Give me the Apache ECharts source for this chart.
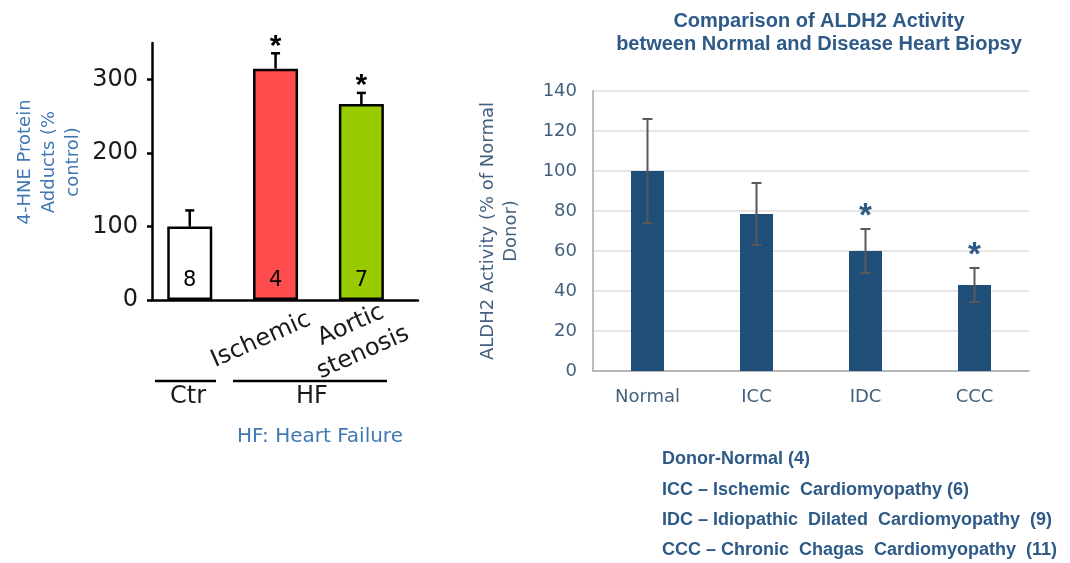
<!DOCTYPE html>
<html>
<head>
<meta charset="utf-8">
<script src="https://cdn.jsdelivr.net/npm/echarts@6/dist/echarts.min.js"></script>
<style>
  html, body { margin: 0; padding: 0; background: #ffffff; }
  #chart { width: 1070px; height: 563px; }
</style>
</head>
<body>
<div id="chart"></div>
<script>
// Left panel: 4-HNE protein adducts (% of control)
const hneGroups = ['Ctr', 'Ischemic', 'Aortic\nstenosis'];
const hneValues = [100, 315, 267];
const hneErrors = [22, 21, 15];
const hneN = [8, 4, 7];
const hneSignificant = [false, true, true];
const hneColors = ['#ffffff', '#ff4d4d', '#99cc00'];
const hneTicks = [0, 100, 200, 300];

// Right panel: ALDH2 activity (% of normal donor)
const aldhCategories = ['Normal', 'ICC', 'IDC', 'CCC'];
const aldhValues = [100, 78.5, 60, 43];
const aldhErrors = [26, 15.5, 11, 8.5];
const aldhSignificant = [false, false, true, true];
const aldhNotes = [
  'Donor-Normal (4)',
  'ICC – Ischemic  Cardiomyopathy (6)',
  'IDC – Idiopathic  Dilated  Cardiomyopathy  (9)',
  'CCC – Chronic  Chagas  Cardiomyopathy  (11)'
];

const SANS = 'DejaVu Sans';
const ARIAL = 'Liberation Sans';
const BLUE_TEXT = '#2e5a87';
const AXIS_TEXT = '#44607f';
const LIGHT_BLUE = '#3f78b3';

const chart = echarts.init(document.getElementById('chart'));

function hneErrorBar(params, api) {
  const x = api.value(0), v = api.value(1), e = api.value(2), sig = api.value(3);
  const base = api.coord([x, v]);
  const top = api.coord([x, v + e]);
  const children = [
    { type: 'line', shape: { x1: base[0], y1: base[1], x2: top[0], y2: top[1] },
      style: { stroke: '#000', lineWidth: 2.5 } },
    { type: 'line', shape: { x1: top[0] - 4.5, y1: top[1], x2: top[0] + 4.5, y2: top[1] },
      style: { stroke: '#000', lineWidth: 2.5 } }
  ];
  if (sig) {
    children.push({ type: 'text', x: top[0], y: top[1] - 7,
      style: { text: '*', fill: '#000', font: 'bold 30px ' + ARIAL, align: 'center', verticalAlign: 'middle' } });
  }
  return { type: 'group', children };
}

function aldhErrorBar(params, api) {
  const x = api.value(0), v = api.value(1), e = api.value(2), sig = api.value(3);
  const top = api.coord([x, v + e]);
  const bot = api.coord([x, v - e]);
  const c = '#595959';
  const children = [
    { type: 'line', shape: { x1: top[0], y1: top[1], x2: bot[0], y2: bot[1] }, style: { stroke: c, lineWidth: 2 } },
    { type: 'line', shape: { x1: top[0] - 5, y1: top[1], x2: top[0] + 5, y2: top[1] }, style: { stroke: c, lineWidth: 2 } },
    { type: 'line', shape: { x1: bot[0] - 5, y1: bot[1], x2: bot[0] + 5, y2: bot[1] }, style: { stroke: c, lineWidth: 2 } }
  ];
  if (sig) {
    children.push({ type: 'text', x: top[0], y: top[1] - 12,
      style: { text: '*', fill: BLUE_TEXT, font: 'bold 33px ' + ARIAL, align: 'center', verticalAlign: 'middle' } });
  }
  return { type: 'group', children };
}

const option = {
  backgroundColor: '#ffffff',
  animation: false,
  grid: [
    { left: 152, top: 43, width: 266, height: 257, outerBoundsMode: 'none' },
    { left: 593, top: 91, width: 436, height: 280, outerBoundsMode: 'none' }
  ],
  xAxis: [
    {
      gridIndex: 0, type: 'value', min: -0.44, max: 2.66,
      axisLine: { show: true, onZero: false, lineStyle: { color: '#000', width: 2.5 } },
      axisTick: { show: false }, axisLabel: { show: false }, splitLine: { show: false }
    },
    {
      gridIndex: 1, type: 'category', data: aldhCategories,
      axisLine: { show: true, lineStyle: { color: '#a6a6a6', width: 1.5 } },
      axisTick: { show: false },
      axisLabel: { color: AXIS_TEXT, fontFamily: SANS, fontSize: 18, margin: 17 }
    }
  ],
  yAxis: [
    {
      gridIndex: 0, type: 'value', min: 0, max: 350,
      name: '4-HNE Protein\nAdducts (%\ncontrol)', nameLocation: 'middle', nameGap: 67,
      nameTextStyle: { color: LIGHT_BLUE, fontFamily: SANS, fontSize: 18, lineHeight: 24, padding: [0, 0, 0, 19] },
      axisLine: { show: true, onZero: false, lineStyle: { color: '#000', width: 2.5 } },
      axisTick: { show: true, length: 5, customValues: hneTicks, lineStyle: { color: '#000', width: 2.5 } },
      axisLabel: { customValues: hneTicks, color: '#1a1a1a', fontFamily: SANS, fontSize: 24, margin: 14 },
      splitLine: { show: false }
    },
    {
      gridIndex: 1, type: 'value', min: 0, max: 140, interval: 20,
      name: 'ALDH2 Activity (% of Normal\nDonor)', nameLocation: 'middle', nameGap: 70,
      nameTextStyle: { color: AXIS_TEXT, fontFamily: SANS, fontSize: 18, lineHeight: 23 },
      axisLine: { show: true, lineStyle: { color: '#a6a6a6', width: 1.5 } },
      axisTick: { show: false },
      axisLabel: { color: AXIS_TEXT, fontFamily: SANS, fontSize: 18, margin: 16 },
      splitLine: { show: true, lineStyle: { color: '#dedede', width: 1.5 } }
    }
  ],
  series: [
    {
      type: 'bar', xAxisIndex: 0, yAxisIndex: 0, barWidth: 45,
      data: hneValues.map((v, i) => ({
        value: [i, v],
        itemStyle: { color: hneColors[i], borderColor: '#000', borderWidth: 2.5 }
      })),
      label: {
        show: true, position: 'insideBottom', distance: 9,
        formatter: (p) => String(hneN[p.dataIndex]),
        color: '#000', fontFamily: SANS, fontSize: 21
      }
    },
    {
      type: 'custom', xAxisIndex: 0, yAxisIndex: 0, z: 3,
      renderItem: hneErrorBar,
      data: hneValues.map((v, i) => [i, v, hneErrors[i], hneSignificant[i] ? 1 : 0])
    },
    {
      type: 'bar', xAxisIndex: 1, yAxisIndex: 1, barWidth: 33,
      itemStyle: { color: '#1f4e79' },
      data: aldhValues
    },
    {
      type: 'custom', xAxisIndex: 1, yAxisIndex: 1, z: 3,
      renderItem: aldhErrorBar,
      data: aldhValues.map((v, i) => [i, v, aldhErrors[i], aldhSignificant[i] ? 1 : 0])
    }
  ],
  graphic: [
    // rotated HF group labels under the bars
    { type: 'text', x: 261, y: 340, rotation: 24 * Math.PI / 180,
      style: { text: hneGroups[1], fill: '#1a1a1a', font: '24px ' + SANS, align: 'center', verticalAlign: 'middle' } },
    { type: 'text', x: 357, y: 339, rotation: 24 * Math.PI / 180,
      style: { text: hneGroups[2], fill: '#1a1a1a', font: '24px ' + SANS, lineHeight: 30, align: 'center', verticalAlign: 'middle' } },
    // group brackets
    { type: 'line', shape: { x1: 155, y1: 381, x2: 216, y2: 381 }, style: { stroke: '#000', lineWidth: 2.5 } },
    { type: 'line', shape: { x1: 233, y1: 381, x2: 387, y2: 381 }, style: { stroke: '#000', lineWidth: 2.5 } },
    { type: 'text', x: 188, y: 397,
      style: { text: hneGroups[0], fill: '#1a1a1a', font: '24px ' + SANS, align: 'center', verticalAlign: 'middle' } },
    { type: 'text', x: 312, y: 397,
      style: { text: 'HF', fill: '#1a1a1a', font: '24px ' + SANS, align: 'center', verticalAlign: 'middle' } },
    { type: 'text', x: 320, y: 437,
      style: { text: 'HF: Heart Failure', fill: LIGHT_BLUE, font: '20px ' + SANS, align: 'center', verticalAlign: 'middle' } },
    // right panel title
    { type: 'text', x: 819, y: 33,
      style: { text: 'Comparison of ALDH2 Activity\nbetween Normal and Disease Heart Biopsy',
        fill: BLUE_TEXT, font: 'bold 20px ' + ARIAL, lineHeight: 23, align: 'center', verticalAlign: 'middle' } },
    // abbreviations with group sizes
    ...aldhNotes.map((t, i) => ({
      type: 'text', x: 662, y: [459, 490, 520, 550][i],
      style: { text: t, fill: BLUE_TEXT, font: 'bold 18px ' + ARIAL, align: 'left', verticalAlign: 'middle' }
    }))
  ]
};

chart.setOption(option);
</script>
</body>
</html>
